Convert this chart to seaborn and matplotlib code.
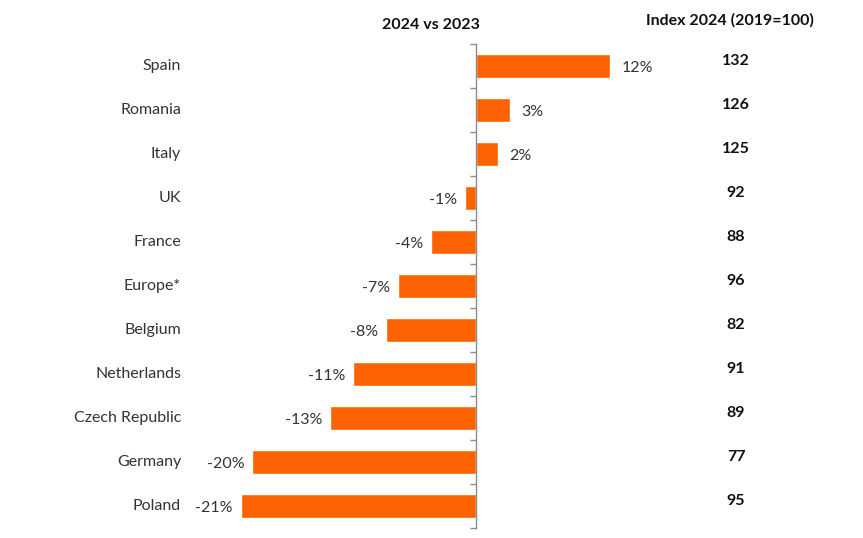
import matplotlib
matplotlib.use("Agg")
import matplotlib.pyplot as plt
import matplotlib.transforms as mtransforms
import seaborn as sns
import pandas as pd
import numpy as np

# data
countries = ["Spain", "Romania", "Italy", "UK", "France", "Europe*", "Belgium",
             "Netherlands", "Czech Republic", "Germany", "Poland"]
change_pct = [12, 3, 2, -1, -4, -7, -8, -11, -13, -20, -21]
index_2024 = [132, 126, 125, 92, 88, 96, 82, 91, 89, 77, 95]

df = pd.DataFrame({"country": countries, "change": change_pct})

sns.set_theme(style="white")
plt.rcParams["font.family"] = ["Lato", "DejaVu Sans"]

orange = "#FF6200"
grey_txt = "#333333"

fig = plt.figure(figsize=(8.63, 5.38), dpi=100)
# zero line at ~476px, 1% ~ 11.2px
x0, x1 = -22, 15
ppu = 11.2
left_px = 476 - (0 - x0) * ppu
width_px = (x1 - x0) * ppu
ax = fig.add_axes([left_px / 863, 10 / 538, width_px / 863, 484 / 538])

sns.barplot(data=df, y="country", x="change", color=orange, orient="h",
            width=0.56, saturation=1, ax=ax)

ax.set_xlim(x0, x1)
ax.set_ylim(len(countries) - 0.5, -0.5)
ax.set_xlabel("")
ax.set_ylabel("")
ax.set_xticks([])

for s in ["top", "right", "bottom"]:
    ax.spines[s].set_visible(False)
ax.spines["left"].set_position(("data", 0))
ax.spines["left"].set_color("#8c8c8c")
ax.spines["left"].set_linewidth(1)

ax.set_yticks(range(len(countries)))
ax.set_yticklabels([])
ax.tick_params(axis="y", which="major", length=0, left=False)
ax.set_yticks(np.arange(-0.5, len(countries), 1), minor=True)
ax.tick_params(axis="y", which="minor", left=True, length=4, color="#8c8c8c",
               width=1, direction="out")

# country names, right aligned at ~181px
lab_tr = mtransforms.blended_transform_factory(fig.transFigure, ax.transData)
for i, c in enumerate(countries):
    ax.text(181 / 863, i, c, transform=lab_tr, ha="right", va="center",
            fontsize=11.5, color=grey_txt)

# value labels
for i, v in enumerate(change_pct):
    if v >= 0:
        ax.text(v + 1.0, i + 0.05, f"{v}%", ha="left", va="center",
                fontsize=11.5, color=grey_txt)
    else:
        ax.text(v - 0.7, i + 0.05, f"{v}%", ha="right", va="center",
                fontsize=11.5, color=grey_txt)

# index column
for i, v in enumerate(index_2024):
    ax.text(736 / 863, i - 0.12, str(v), transform=lab_tr, ha="center",
            va="center", fontsize=11.5, fontweight="bold", color="#111111")

fig.text(431 / 863, 1 - 25 / 538, "2024 vs 2023", ha="center", va="center",
         fontsize=11.5, fontweight="bold", color="#111111")
fig.text(730 / 863, 1 - 20 / 538, "Index 2024 (2019=100)", ha="center",
         va="center", fontsize=11.5, fontweight="bold", color="#111111")

fig.savefig("out.png", dpi=100, facecolor="white")
